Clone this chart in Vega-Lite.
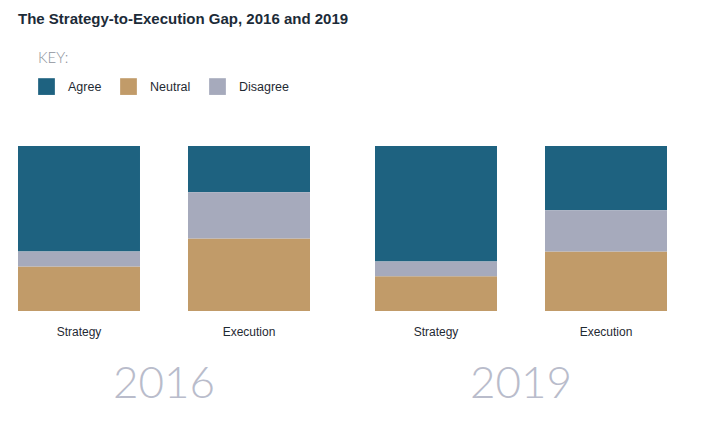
{
  "$schema": "https://vega.github.io/schema/vega-lite/v6.json",
  "description": "The Strategy-to-Execution Gap, 2016 and 2019: stacked shares of agree/neutral/disagree.",
  "padding": {"left": 18, "top": 12, "right": 10, "bottom": 5},
  "title": {
    "text": "The Strategy-to-Execution Gap, 2016 and 2019",
    "anchor": "start",
    "fontSize": 15,
    "fontWeight": "bold",
    "color": "#1c2b38",
    "offset": 24
  },
  "data": {
    "values": [
      {"year": "2016", "bar": "Strategy", "category": "Agree", "pct": 0.64, "n": "n = 1,141", "gap": 36},
      {"year": "2016", "bar": "Strategy", "category": "Neutral", "pct": 0.27, "n": "n = 1,141", "gap": 36},
      {"year": "2016", "bar": "Strategy", "category": "Disagree", "pct": 0.09, "n": "n = 1,141", "gap": 36},
      {"year": "2016", "bar": "Execution", "category": "Agree", "pct": 0.28, "n": "n = 839", "gap": 36},
      {"year": "2016", "bar": "Execution", "category": "Neutral", "pct": 0.44, "n": "n = 839", "gap": 36},
      {"year": "2016", "bar": "Execution", "category": "Disagree", "pct": 0.28, "n": "n = 839", "gap": 36},
      {"year": "2019", "bar": "Strategy", "category": "Agree", "pct": 0.70, "n": "n =1,492", "gap": 31},
      {"year": "2019", "bar": "Strategy", "category": "Neutral", "pct": 0.21, "n": "n =1,492", "gap": 31},
      {"year": "2019", "bar": "Strategy", "category": "Disagree", "pct": 0.09, "n": "n =1,492", "gap": 31},
      {"year": "2019", "bar": "Execution", "category": "Agree", "pct": 0.39, "n": "n = 1,403", "gap": 31},
      {"year": "2019", "bar": "Execution", "category": "Neutral", "pct": 0.36, "n": "n = 1,403", "gap": 31},
      {"year": "2019", "bar": "Execution", "category": "Disagree", "pct": 0.25, "n": "n = 1,403", "gap": 31}
    ]
  },
  "facet": {
    "column": {
      "field": "year",
      "type": "nominal",
      "title": null,
      "header": {
        "labelOrient": "bottom",
        "labelFont": "Lato",
        "labelFontWeight": 300,
        "labelFontSize": 44,
        "labelColor": "#b9bccb",
        "labelPadding": 26
      }
    }
  },
  "spacing": 65,
  "spec": {
    "width": 292,
    "height": 196,
    "layer": [
      {
        "mark": {"type": "bar"},
        "encoding": {
          "x": {
            "field": "bar",
            "type": "nominal",
            "sort": ["Strategy", "Execution"],
            "scale": {"paddingInner": 0.2824, "paddingOuter": 0},
            "axis": {
              "title": null,
              "domain": false,
              "ticks": false,
              "labelAngle": 0,
              "labelFontSize": 12,
              "labelColor": "#1f2a33",
              "labelPadding": 15
            }
          },
          "y": {
            "field": "pct",
            "type": "quantitative",
            "stack": "zero",
            "scale": {"domain": [0, 1.188], "nice": false},
            "axis": null
          },
          "color": {
            "field": "category",
            "type": "nominal",
            "sort": ["Agree", "Neutral", "Disagree"],
            "scale": {
              "range": ["#1e6280", "#c19b69", "#a6aabc"]
            },
            "legend": {
              "title": "KEY:",
              "orient": "bottom-left",
              "direction": "horizontal",
              "offset": 20,
              "symbolType": "square",
              "symbolSize": 280,
              "symbolStrokeWidth": 0,
              "symbolOpacity": 1,
              "labelFontSize": 12.5,
              "labelColor": "#1f2a33",
              "labelOffset": 13,
              "columnPadding": 18,
              "titleFont": "Lato",
              "titleFontSize": 15,
              "titleFontWeight": 300,
              "titleColor": "#8e939c",
              "titlePadding": 12
            }
          }
        }
      }
    ]
  },
  "config": {
    "font": "Liberation Sans",
    "view": {"stroke": null}
  }
}
